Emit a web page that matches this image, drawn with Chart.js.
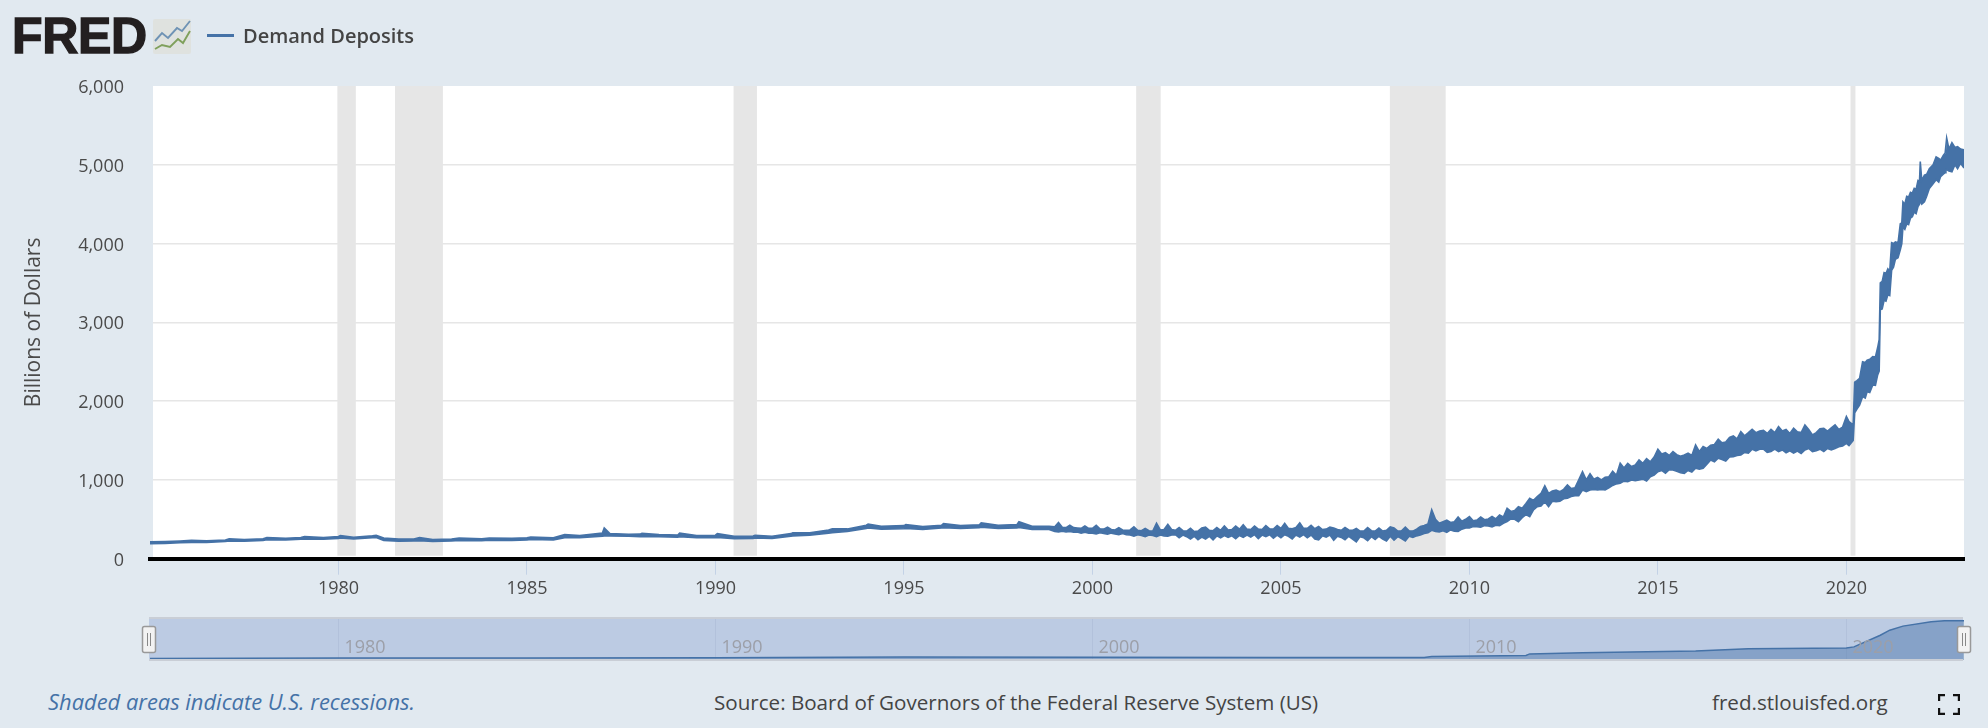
<!DOCTYPE html>
<html>
<head>
<meta charset="utf-8">
<title>Demand Deposits</title>
<script src="https://cdn.jsdelivr.net/npm/chart.js@4/dist/chart.umd.min.js"></script>
<style>
  html, body { margin: 0; padding: 0; width: 1988px; height: 728px; overflow: hidden; background: #e1e9f0; }
  body { position: relative; font-family: "Open Sans", sans-serif; color: #444; }
  canvas { position: absolute; left: 0; }
  #mainChart { top: 0; }
  #navChart { top: 600px; }
  .txt { position: absolute; white-space: nowrap; }
  #logo { left: 12px; top: 7px; font: bold 50px/58px "Liberation Sans", sans-serif; color: #231f20; -webkit-text-stroke: 1.4px #231f20; letter-spacing: -0.3px; }
  #logoIcon { position: absolute; left: 153px; top: 19px; }
  #legendLine { position: absolute; left: 207px; top: 34px; width: 27px; height: 3px; background: #4572a7; }
  #legendText { left: 243px; top: 23px; font-size: 20px; line-height: 26px; font-weight: 600; }
  #recNote { left: 48px; top: 688px; font-size: 21.9px; line-height: 28px; font-style: italic; color: #4572a7; }
  #source { left: 714px; top: 688px; font-size: 20.6px; line-height: 28px; }
  #site { left: 1712px; top: 688px; font-size: 20.6px; line-height: 28px; }
  #fullIcon { position: absolute; left: 1938px; top: 694px; }
</style>
</head>
<body>
<canvas id="mainChart" width="1988" height="640"></canvas>
<canvas id="navChart" width="1988" height="70"></canvas>

<div id="logo" class="txt">FRED</div>
<svg id="logoIcon" width="39" height="36" viewBox="0 0 39 36">
  <rect x="0" y="0" width="38" height="35" rx="2" fill="#dfe2df"/>
  <polyline points="2,22 9,14 15,19 24,9 29,12 37,2" fill="none" stroke="#6f93b5" stroke-width="1.9"/>
  <polyline points="2,30 9,26 17,28 25,20 30,24 37,12" fill="none" stroke="#7fa05c" stroke-width="1.9"/>
</svg>
<div id="legendLine"></div>
<div id="legendText" class="txt">Demand Deposits</div>
<div id="recNote" class="txt">Shaded areas indicate U.S. recessions.</div>
<div id="source" class="txt">Source: Board of Governors of the Federal Reserve System (US)</div>
<div id="site" class="txt">fred.stlouisfed.org</div>
<svg id="fullIcon" width="22" height="21" viewBox="0 0 22 21">
  <path d="M1 7V1H7M15 1H21V7M21 14V20H15M7 20H1V14" fill="none" stroke="#111" stroke-width="2.4"/>
</svg>

<script>
// observation dates, with the lower and upper edge of the weekly swing (billions of dollars)
const obsYears = [
  1975, 1975.4, 1975.8, 1976.1, 1976.5, 1977, 1977.1, 1977.5, 1978, 1978.1, 1978.6, 1979, 1979.1, 1979.6, 1980, 1980.05, 1980.4, 1980.9, 1981, 1981.2,
  1981.6, 1982, 1982.15, 1982.5, 1983, 1983.2, 1983.8, 1984, 1984.6, 1985, 1985.1, 1985.7, 1986, 1986.4, 1987, 1987.05, 1987.2, 1987.7, 1988, 1988.05,
  1988.5, 1989, 1989.05, 1989.5, 1990, 1990.05, 1990.5, 1991, 1991.05, 1991.5, 1992, 1992.05, 1992.5, 1993, 1993.1, 1993.5, 1994, 1994.05, 1994.4, 1995,
  1995.05, 1995.5, 1996, 1996.05, 1996.5, 1997, 1997.05, 1997.5, 1998, 1998.05, 1998.4, 1998.85,
  1999, 1999.1, 1999.2, 1999.3, 1999.4, 1999.5, 1999.6, 1999.7, 1999.8, 1999.9,
  2000, 2000.1, 2000.2, 2000.3, 2000.4, 2000.5, 2000.6, 2000.7, 2000.8, 2000.9,
  2001, 2001.1, 2001.2, 2001.3, 2001.4, 2001.5, 2001.6, 2001.7, 2001.8, 2001.9,
  2002, 2002.1, 2002.2, 2002.3, 2002.4, 2002.5, 2002.6, 2002.7, 2002.8, 2002.9,
  2003, 2003.1, 2003.2, 2003.3, 2003.4, 2003.5, 2003.6, 2003.7, 2003.8, 2003.9,
  2004, 2004.1, 2004.2, 2004.3, 2004.4, 2004.5, 2004.6, 2004.7, 2004.8, 2004.9,
  2005, 2005.1, 2005.2, 2005.3, 2005.4, 2005.5, 2005.6, 2005.7, 2005.8, 2005.9,
  2006, 2006.1, 2006.2, 2006.3, 2006.4, 2006.5, 2006.6, 2006.7, 2006.8, 2006.9,
  2007, 2007.1, 2007.2, 2007.3, 2007.4, 2007.5, 2007.6, 2007.7, 2007.8, 2007.9,
  2008, 2008.1, 2008.2, 2008.3, 2008.4, 2008.5, 2008.6, 2008.7, 2008.8, 2008.9,
  2009, 2009.1, 2009.2, 2009.3, 2009.4, 2009.5, 2009.6, 2009.7, 2009.8, 2009.9,
  2010, 2010.1, 2010.2, 2010.3, 2010.4, 2010.5, 2010.6, 2010.7, 2010.8, 2010.9,
  2011, 2011.1, 2011.2, 2011.3, 2011.4, 2011.5, 2011.6, 2011.7, 2011.8, 2011.9,
  2012, 2012.1, 2012.2, 2012.3, 2012.4, 2012.5, 2012.6, 2012.7, 2012.8, 2012.9,
  2013, 2013.1, 2013.2, 2013.3, 2013.4, 2013.5, 2013.6, 2013.7, 2013.8, 2013.9,
  2014, 2014.1, 2014.2, 2014.3, 2014.4, 2014.5, 2014.6, 2014.7, 2014.8, 2014.9,
  2015, 2015.1, 2015.2, 2015.3, 2015.4, 2015.5, 2015.6, 2015.7, 2015.8, 2015.9,
  2016, 2016.1, 2016.2, 2016.3, 2016.4, 2016.5, 2016.6, 2016.7, 2016.8, 2016.9,
  2017, 2017.1, 2017.2, 2017.3, 2017.4, 2017.5, 2017.6, 2017.7, 2017.8, 2017.9,
  2018, 2018.1, 2018.2, 2018.3, 2018.4, 2018.5, 2018.6, 2018.7, 2018.8, 2018.9,
  2019, 2019.1, 2019.2, 2019.3, 2019.4, 2019.5, 2019.6, 2019.7, 2019.8, 2019.9,
  2020, 2020.07, 2020.18, 2020.22, 2020.28, 2020.35, 2020.43, 2020.5, 2020.55, 2020.62, 2020.7, 2020.77, 2020.83, 2020.87, 2020.9, 2020.95, 2021, 2021.05, 2021.1, 2021.15,
  2021.2, 2021.25, 2021.3, 2021.37, 2021.43, 2021.47, 2021.5, 2021.55, 2021.6, 2021.65, 2021.7, 2021.75, 2021.8, 2021.85, 2021.9, 2021.94, 2021.96, 2022, 2022.07, 2022.13,
  2022.2, 2022.3, 2022.38, 2022.45, 2022.5, 2022.57, 2022.62, 2022.64, 2022.66, 2022.72, 2022.8, 2022.88, 2022.95, 2023.03, 2023.12
];
const demandLow = [
  190, 195, 202, 205, 205, 218, 225, 222, 232, 240, 238, 248, 250, 248, 258, 262, 250, 268, 270, 232,
  222, 225, 230, 220, 225, 232, 228, 235, 232, 238, 245, 238, 265, 268, 285, 290, 288, 285, 280, 282,
  278, 272, 278, 265, 268, 270, 255, 258, 262, 258, 285, 290, 298, 325, 330, 345, 385, 390, 375, 380,
  385, 370, 390, 392, 385, 395, 400, 385, 390, 395, 370, 372,
  345, 340, 350, 340, 345, 335, 340, 325, 335, 325,
  325, 315, 330, 320, 310, 325, 315, 305, 320, 305,
  300, 285, 305, 295, 280, 300, 295, 280, 300, 290,
  285, 300, 305, 265, 300, 280, 250, 285, 240, 275,
  250, 285, 240, 290, 265, 295, 270, 290, 255, 295,
  270, 300, 275, 305, 255, 300, 280, 305, 260, 300,
  265, 305, 285, 250, 300, 275, 305, 265, 300, 250,
  240, 290, 275, 300, 235, 285, 270, 240, 285, 250,
  215, 280, 265, 230, 280, 245, 285, 250, 225, 285,
  235, 280, 255, 225, 285, 270, 290, 300, 320, 330,
  360, 345, 340, 355, 335, 365, 350, 345, 375, 390,
  390, 410, 405, 400, 420, 415, 405, 425, 420, 450,
  470, 505, 500, 470, 520, 560, 533, 620, 660, 670,
  724, 660, 730, 724, 730, 760, 767, 790, 800, 800,
  872, 851, 872, 880, 872, 880, 872, 900, 930, 950,
  957, 985, 978, 1000, 990, 1000, 1010, 985, 1040, 1060,
  1105, 1120, 1084, 1130, 1126, 1110, 1090, 1084, 1120, 1100,
  1148, 1135, 1148, 1200, 1253, 1230, 1275, 1260, 1240, 1290,
  1296, 1310, 1317, 1350, 1340, 1389, 1370, 1390, 1390, 1350,
  1360, 1390, 1360, 1380, 1345, 1370, 1340, 1365, 1335, 1380,
  1400, 1360, 1370, 1390, 1360, 1400, 1380, 1400, 1420, 1430,
  1465, 1435, 1500, 1850, 1900, 1950, 2057, 2040, 2120, 2110, 2205, 2200, 2333, 2380, 3160, 3170, 3280, 3270, 3350, 3340,
  3660, 3700, 3800, 3820, 3920, 4000, 4212, 4180, 4250, 4240, 4325, 4340, 4400, 4380, 4470, 4500, 4553, 4500, 4530, 4600,
  4700, 4760, 4810, 4780, 4850, 4880, 4900, 4940, 4940, 4920, 4910, 5000, 4950, 5020, 4960
];
const demandHigh = [
  215, 218, 225, 232, 226, 238, 252, 242, 254, 268, 258, 270, 280, 270, 282, 295, 272, 292, 298, 262,
  248, 250, 268, 244, 250, 262, 254, 262, 258, 265, 275, 266, 305, 295, 325, 390, 320, 310, 312, 322,
  305, 300, 325, 295, 298, 318, 285, 288, 298, 285, 318, 328, 330, 365, 380, 378, 425, 440, 412, 420,
  432, 408, 425, 445, 420, 430, 455, 425, 435, 470, 412, 412,
  405, 460, 400, 395, 425, 395, 390, 385, 415, 385,
  385, 425, 380, 375, 400, 370, 365, 395, 365, 360,
  365, 405, 360, 355, 385, 355, 350, 450, 365, 370,
  435, 370, 360, 395, 355, 350, 385, 345, 350, 390,
  400, 360, 355, 395, 360, 415, 365, 370, 415, 375,
  430, 375, 370, 415, 375, 370, 420, 380, 375, 420,
  385, 450, 385, 380, 395, 455, 385, 385, 425, 380,
  410, 370, 375, 400, 390, 370, 360, 395, 365, 360,
  385, 350, 350, 395, 355, 350, 390, 350, 360, 405,
  390, 350, 355, 400, 355, 350, 375, 410, 420, 440,
  620, 500, 450, 470, 490, 460, 470, 530, 475, 500,
  535, 480, 490, 530, 495, 505, 535, 505, 555, 530,
  640, 600, 610, 660, 640, 700, 767, 740, 790, 830,
  925, 830, 860, 872, 850, 880, 936, 890, 900, 1000,
  1105, 1000, 1080, 1010, 1033, 1000, 1033, 1040, 1110, 1060,
  1211, 1150, 1211, 1170, 1190, 1253, 1210, 1270, 1230, 1290,
  1389, 1330, 1346, 1310, 1359, 1320, 1300, 1317, 1340, 1310,
  1444, 1360, 1423, 1400, 1440, 1450, 1516, 1470, 1480, 1540,
  1558, 1520, 1613, 1560, 1600, 1643, 1600, 1620, 1630, 1590,
  1643, 1600, 1677, 1620, 1640, 1590, 1655, 1610, 1600, 1698,
  1640, 1570, 1600, 1650, 1655, 1620, 1660, 1698, 1640, 1670,
  1804, 1740, 1700, 2240, 2260, 2290, 2500, 2490, 2520, 2530, 2565, 2560, 2680, 2780, 3500, 3520, 3630, 3620, 3680, 3650,
  4010, 4000, 4020, 4010, 4250, 4260, 4530, 4500, 4600, 4590, 4650, 4640, 4700, 4690, 4800, 4790, 5040, 4800, 4870, 4880,
  4950, 5000, 5100, 5080, 5060, 5120, 5150, 5150, 5340, 5200, 5280, 5220, 5230, 5200, 5190
];

// thumbnail series under the main chart
const navYears = [1975, 1980, 1985, 1990, 1995, 2000, 2005, 2008.8, 2009, 2011.5, 2011.6, 2013, 2016, 2017.4, 2020, 2020.2, 2020.9, 2021.15, 2021.5, 2022.25, 2022.6, 2023.12];
const navValues = [205, 265, 245, 285, 395, 360, 330, 340, 460, 590, 790, 945, 1155, 1465, 1545, 1700, 3210, 3865, 4390, 4950, 5100, 5080];

const recessionStart = [1979.97, 1981.5, 1990.48, 2001.16, 2007.89, 2020.11];
const recessionEnd = [1980.46, 1982.77, 1991.1, 2001.81, 2009.37, 2020.24];

const yTicks = [0, 1000, 2000, 3000, 4000, 5000, 6000];
const xTicks = [1980, 1985, 1990, 1995, 2000, 2005, 2010, 2015, 2020];
const navTicks = [1980, 1990, 2000, 2010, 2020];

const xMin = 1975;
const xMax = 2023.12;
const bgColor = "#e1e9f0";
const lineColor = "#4572a7";

const toPoints = (xs, ys) => xs.map((x, i) => ({ x: x, y: ys[i] }));

const plotBackground = {
  id: "plotBackground",
  beforeDraw(chart) {
    const { ctx, chartArea: a } = chart;
    ctx.save();
    ctx.fillStyle = "#fff";
    ctx.fillRect(a.left + 3, a.top, a.right - a.left - 3, a.bottom - a.top);
    ctx.restore();
  },
  beforeDatasetsDraw(chart) {
    const { ctx, chartArea: a, scales } = chart;
    ctx.save();
    // recession bands sit over the grid lines
    ctx.fillStyle = "#e6e6e6";
    recessionStart.forEach((start, i) => {
      const x0 = scales.x.getPixelForValue(start);
      const x1 = scales.x.getPixelForValue(recessionEnd[i]);
      ctx.fillRect(x0, a.top, x1 - x0, a.bottom - a.top - 3);
    });
    ctx.fillStyle = bgColor;
    ctx.fillRect(a.left, a.top, 3, a.bottom - a.top - 3);
    ctx.restore();
  }
};

const navDecor = {
  id: "navDecor",
  beforeDraw(chart) {
    const { ctx, chartArea: a, scales } = chart;
    ctx.save();
    ctx.fillStyle = "#bccbe3";
    ctx.fillRect(a.left - 1, a.top, a.right - a.left, a.bottom - a.top);
    ctx.strokeStyle = "#b2c1db";
    ctx.lineWidth = 1;
    navTicks.forEach(year => {
      const x = Math.round(scales.x.getPixelForValue(year)) + 0.5;
      ctx.beginPath();
      ctx.moveTo(x, a.top);
      ctx.lineTo(x, a.bottom);
      ctx.stroke();
    });
    ctx.restore();
  },
  afterDraw(chart) {
    const { ctx, chartArea: a, scales } = chart;
    ctx.save();
    ctx.font = '18px "Open Sans"';
    ctx.fillStyle = "#9c9fa8";
    ctx.textBaseline = "middle";
    navTicks.forEach(year => {
      ctx.fillText(String(year), scales.x.getPixelForValue(year) + 6, 48);
    });
    ctx.fillStyle = "#c9ced6";
    ctx.fillRect(a.left - 1, a.top, a.right - a.left, 2);
    ctx.fillRect(a.left - 1, a.bottom - 1, a.right - a.left, 2);
    [a.left - 8, a.right - 7].forEach(x => {
      ctx.fillStyle = "#f2f2f2";
      ctx.strokeStyle = "#999";
      ctx.lineWidth = 1.5;
      ctx.beginPath();
      ctx.roundRect(x + 0.5, 26.5, 13, 26, 2);
      ctx.fill();
      ctx.stroke();
      ctx.strokeStyle = "#888";
      ctx.lineWidth = 1;
      [x + 5.5, x + 8.5].forEach(lx => {
        ctx.beginPath();
        ctx.moveTo(lx, 33);
        ctx.lineTo(lx, 46);
        ctx.stroke();
      });
    });
    ctx.restore();
  }
};

new Chart(document.getElementById("mainChart"), {
  type: "line",
  data: {
    datasets: [
      { label: "Demand Deposits", data: toPoints(obsYears, demandHigh), borderColor: lineColor, borderWidth: 1.6, pointRadius: 0, tension: 0, fill: false },
      { label: "Demand Deposits (low)", data: toPoints(obsYears, demandLow), borderColor: lineColor, borderWidth: 1.6, pointRadius: 0, tension: 0, fill: "-1", backgroundColor: lineColor }
    ]
  },
  options: {
    responsive: false,
    animation: false,
    events: [],
    layout: { padding: { top: 86, right: 24, left: 0, bottom: 0 } },
    plugins: { legend: { display: false }, tooltip: { enabled: false } },
    scales: {
      x: {
        type: "linear",
        min: xMin,
        max: xMax,
        afterBuildTicks: axis => { axis.ticks = xTicks.map(v => ({ value: v })); },
        afterFit: axis => { axis.height = 81.3; },
        border: { display: true, color: "#000", width: 4 },
        grid: { drawOnChartArea: false, drawTicks: true, tickLength: 16, tickColor: "#c3d2e6", tickWidth: 1 },
        ticks: {
          autoSkip: false, maxRotation: 0, padding: 3, color: "#4a4a4a",
          font: { family: "Open Sans", size: 18 },
          callback: v => String(v)
        }
      },
      y: {
        min: 0,
        max: 6000,
        afterBuildTicks: axis => { axis.ticks = yTicks.map(v => ({ value: v })); },
        afterFit: axis => { axis.width = 150; },
        border: { display: false },
        grid: {
          drawTicks: false,
          lineWidth: 1.5,
          color: c => (c.tick.value === 0 || c.tick.value === 6000) ? "rgba(0,0,0,0)" : "#e6e6e6"
        },
        ticks: {
          autoSkip: false, padding: 26, color: "#4a4a4a", labelOffset: 2,
          font: { family: "Open Sans", size: 18 },
          callback: v => v.toLocaleString("en-US")
        },
        title: {
          display: true,
          text: "Billions of Dollars",
          color: "#4a4a4a",
          font: { family: "Open Sans", size: 21 },
          padding: { top: 21, bottom: 0 }
        }
      }
    }
  },
  plugins: [plotBackground]
});

new Chart(document.getElementById("navChart"), {
  type: "line",
  data: {
    datasets: [
      { label: "Navigator", data: toPoints(navYears, navValues), borderColor: lineColor, borderWidth: 1.5, pointRadius: 0, tension: 0, fill: "origin", backgroundColor: "rgba(69,114,167,0.45)" }
    ]
  },
  options: {
    responsive: false,
    animation: false,
    events: [],
    layout: { padding: { top: 17, right: 24, left: 150, bottom: 10 } },
    plugins: { legend: { display: false }, tooltip: { enabled: false } },
    scales: {
      x: { type: "linear", min: xMin, max: xMax, display: false },
      y: { min: 0, max: 5570, display: false }
    }
  },
  plugins: [navDecor]
});
</script>
</body>
</html>
